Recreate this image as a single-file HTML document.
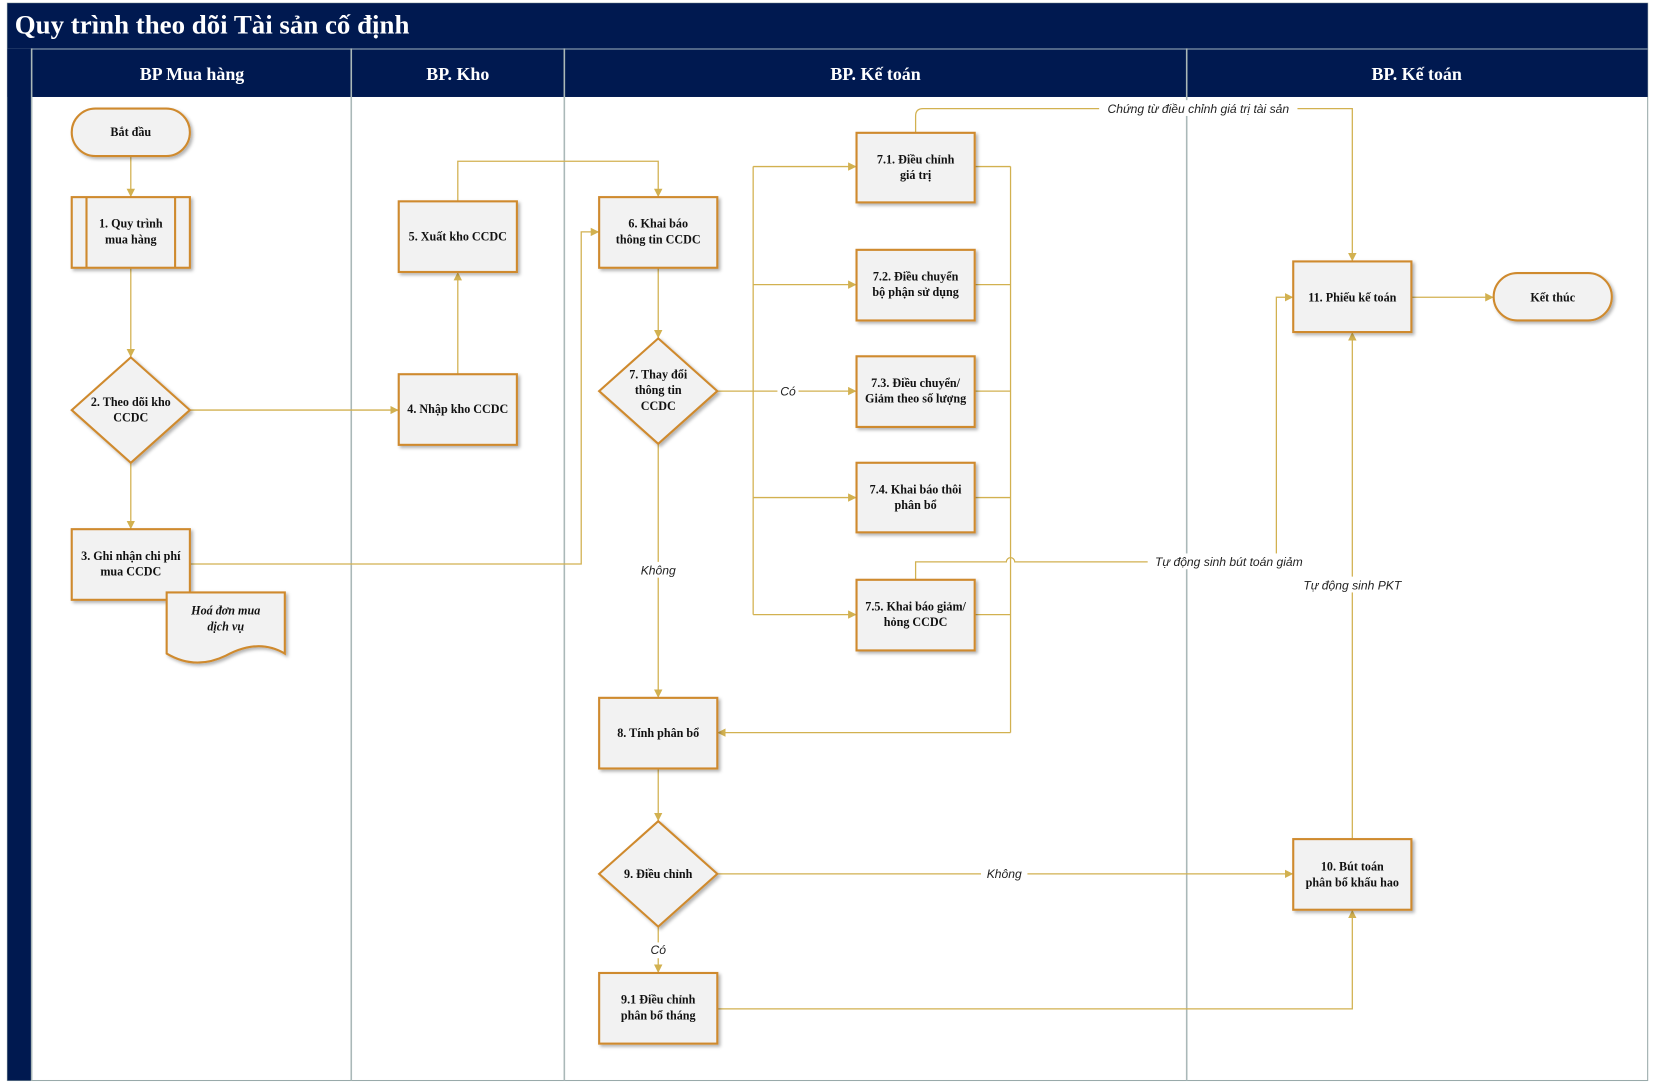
<!DOCTYPE html>
<html><head><meta charset="utf-8"><style>
html,body{margin:0;padding:0;background:#fff;width:1654px;height:1090px;overflow:hidden}
svg{display:block}
.n{font-family:"Liberation Serif",serif;font-weight:bold;font-size:11.5px;fill:#111;text-anchor:middle}
.l{font-family:"Liberation Sans",sans-serif;font-style:italic;font-size:11.5px;fill:#222;text-anchor:middle}
.h{font-family:"Liberation Serif",serif;font-weight:bold;font-size:17px;fill:#fff;text-anchor:middle}
.s{fill:#f2f2f2;stroke:#cf8a2e;stroke-width:2}
.c{fill:none;stroke:#d2b150;stroke-width:1.2}
</style></head><body>
<svg width="1654" height="1090" viewBox="0 0 1568 1034" preserveAspectRatio="none">
<defs>
<marker id="a" viewBox="0 0 10 10" refX="10" refY="5" markerWidth="8" markerHeight="8" orient="auto" markerUnits="userSpaceOnUse"><path d="M0,0L10,5L0,10z" fill="#d2b150"/></marker>
<filter id="sh" x="-10%" y="-10%" width="130%" height="130%"><feDropShadow dx="2" dy="2" stdDeviation="1.5" flood-color="#000" flood-opacity="0.3"/></filter>
</defs>
<rect x="7" y="3" width="1555" height="1022" fill="#fff" stroke="#9aa" stroke-width="1"/>
<rect x="7" y="3" width="1555" height="43" fill="#001950"/>
<text x="14" y="32" font-family="Liberation Serif,serif" font-weight="bold" font-size="25.5" fill="#fff">Quy trình theo dõi Tài sản cố định</text>
<rect x="7" y="46" width="1555" height="46" fill="#001950"/>
<line x1="7" y1="46.5" x2="1562" y2="46.5" stroke="#6b7f99" stroke-width="1.5"/>
<rect x="7" y="46" width="23" height="979" fill="#001950"/>
<g stroke="#aab8b8" stroke-width="1.5">
<line x1="30" y1="46" x2="30" y2="1025"/>
<line x1="333" y1="46" x2="333" y2="1025"/>
<line x1="535" y1="46" x2="535" y2="1025"/>
<line x1="1125" y1="46" x2="1125" y2="1025"/>
</g>
<text class="h" x="182" y="76">BP Mua hàng</text>
<text class="h" x="434" y="76">BP. Kho</text>
<text class="h" x="830" y="76">BP. Kế toán</text>
<text class="h" x="1343" y="76">BP. Kế toán</text>

<g class="c">
<path d="M124,148V187" marker-end="url(#a)"/>
<path d="M124,254V339" marker-end="url(#a)"/>
<path d="M124,439V502" marker-end="url(#a)"/>
<path d="M180,389H378" marker-end="url(#a)"/>
<path d="M434,355V258" marker-end="url(#a)"/>
<path d="M434,191V153H624V187" marker-end="url(#a)"/>
<path d="M180,535H551V220H568" marker-end="url(#a)"/>
<path d="M624,254V321" marker-end="url(#a)"/>
<path d="M680,371H714"/>
<path d="M714,158V583"/>
<path d="M714,158H812" marker-end="url(#a)"/>
<path d="M714,270H812" marker-end="url(#a)"/>
<path d="M714,371H812" marker-end="url(#a)"/>
<path d="M714,472H812" marker-end="url(#a)"/>
<path d="M714,583H812" marker-end="url(#a)"/>
<path d="M924,158H958M924,270H958M924,371H958M924,472H958M924,583H958M958,158V695"/>
<path d="M958,695H680" marker-end="url(#a)"/>
<path d="M624,421V662" marker-end="url(#a)"/>
<path d="M624,729V779" marker-end="url(#a)"/>
<path d="M680,829H1226" marker-end="url(#a)"/>
<path d="M624,879V923" marker-end="url(#a)"/>
<path d="M680,957H1282V863" marker-end="url(#a)"/>
<path d="M1282,796V315" marker-end="url(#a)"/>
<path d="M868,550V533H954A4,4 0 0 1 962,533H1210V282H1226" marker-end="url(#a)"/>
<path d="M868,126V110Q868,103 875,103H1282V248" marker-end="url(#a)"/>
<path d="M1338,282H1416" marker-end="url(#a)"/>
</g>
<g fill="#fff">
<rect x="737" y="363" width="20" height="15"/>
<rect x="602" y="533" width="44" height="15"/>
<rect x="930" y="821" width="44" height="15"/>
<rect x="612" y="894" width="24" height="15"/>
<rect x="1232" y="547" width="100" height="15"/>
<rect x="1088" y="525" width="154" height="15"/>
<rect x="1042" y="95" width="188" height="15"/>
</g>
<text class="l" x="747" y="375">Có</text>
<text class="l" x="624" y="545">Không</text>
<text class="l" x="952" y="833">Không</text>
<text class="l" x="624" y="905">Có</text>
<text class="l" x="1282" y="559">Tự động sinh PKT</text>
<text class="l" x="1165" y="537">Tự động sinh bút toán giảm</text>
<text class="l" x="1136" y="107">Chứng từ điều chỉnh giá trị tài sản</text>

<g filter="url(#sh)">
<rect class="s" x="68" y="103" width="112" height="45" rx="22.5"/>
<rect class="s" x="68" y="187" width="112" height="67"/>
<path class="s" d="M124,339L180,389L124,439L68,389Z"/>
<rect class="s" x="68" y="502" width="112" height="67"/>
<path class="s" d="M158,562H270V620Q245,605 214,622Q185,636 158,620Z"/>
<rect class="s" x="378" y="355" width="112" height="67"/>
<rect class="s" x="378" y="191" width="112" height="67"/>
<rect class="s" x="568" y="187" width="112" height="67"/>
<path class="s" d="M624,321L680,371L624,421L568,371Z"/>
<rect class="s" x="812" y="126" width="112" height="66"/>
<rect class="s" x="812" y="237" width="112" height="67"/>
<rect class="s" x="812" y="338" width="112" height="67"/>
<rect class="s" x="812" y="439" width="112" height="66"/>
<rect class="s" x="812" y="550" width="112" height="67"/>
<rect class="s" x="568" y="662" width="112" height="67"/>
<path class="s" d="M624,779L680,829L624,879L568,829Z"/>
<rect class="s" x="568" y="923" width="112" height="67"/>
<rect class="s" x="1226" y="796" width="112" height="67"/>
<rect class="s" x="1226" y="248" width="112" height="67"/>
<rect class="s" x="1416" y="259" width="112" height="45" rx="22.5"/>
</g>
<path d="M82,187V254M166,187V254" stroke="#cf8a2e" stroke-width="2"/>

<text class="n" x="124" y="129">Bắt đầu</text>
<text class="n" x="124" y="216">1. Quy trình</text><text class="n" x="124" y="231">mua hàng</text>
<text class="n" x="124" y="385">2. Theo dõi kho</text><text class="n" x="124" y="400">CCDC</text>
<text class="n" x="124" y="531">3. Ghi nhận chi phí</text><text class="n" x="124" y="546">mua CCDC</text>
<text class="n" x="214" y="583" font-style="italic">Hoá đơn mua</text><text class="n" x="214" y="598" font-style="italic">dịch vụ</text>
<text class="n" x="434" y="392">4. Nhập kho CCDC</text>
<text class="n" x="434" y="228">5. Xuất kho CCDC</text>
<text class="n" x="624" y="216">6. Khai báo</text><text class="n" x="624" y="231">thông tin CCDC</text>
<text class="n" x="624" y="359">7. Thay đổi</text><text class="n" x="624" y="374">thông tin</text><text class="n" x="624" y="389">CCDC</text>
<text class="n" x="868" y="155">7.1. Điều chỉnh</text><text class="n" x="868" y="170">giá trị</text>
<text class="n" x="868" y="266">7.2. Điều chuyển</text><text class="n" x="868" y="281">bộ phận sử dụng</text>
<text class="n" x="868" y="367">7.3. Điều chuyển/</text><text class="n" x="868" y="382">Giảm theo số lượng</text>
<text class="n" x="868" y="468">7.4. Khai báo thôi</text><text class="n" x="868" y="483">phân bổ</text>
<text class="n" x="868" y="579">7.5. Khai báo giảm/</text><text class="n" x="868" y="594">hỏng CCDC</text>
<text class="n" x="624" y="699">8. Tính phân bổ</text>
<text class="n" x="624" y="833">9. Điều chỉnh</text>
<text class="n" x="624" y="952">9.1 Điều chỉnh</text><text class="n" x="624" y="967">phân bổ tháng</text>
<text class="n" x="1282" y="826">10. Bút toán</text><text class="n" x="1282" y="841">phân bổ khấu hao</text>
<text class="n" x="1282" y="286">11. Phiếu kế toán</text>
<text class="n" x="1472" y="286">Kết thúc</text>
</svg>
</body></html>
